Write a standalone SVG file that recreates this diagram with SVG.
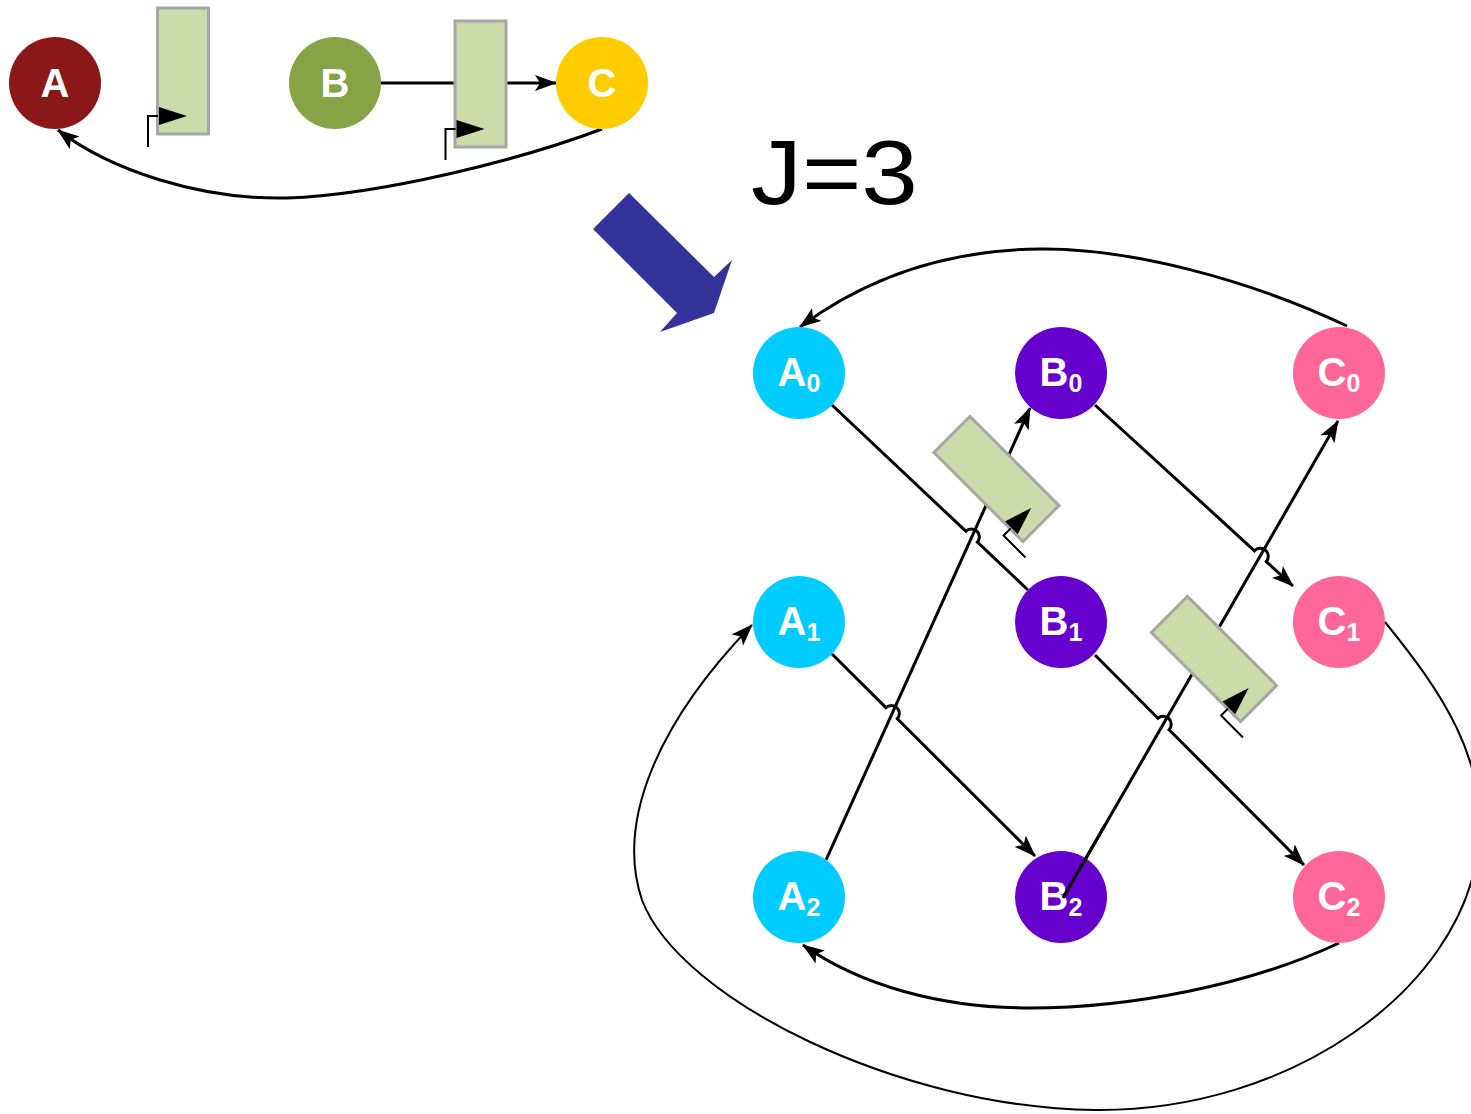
<svg xmlns="http://www.w3.org/2000/svg" width="1471" height="1114" viewBox="0 0 1471 1114">
  <style>
    .wire { fill: none; stroke: #000; stroke-width: 3; }
    .thin { fill: none; stroke: #000; stroke-width: 2; }
    .reg { fill: #CCDBAA; stroke: #A6A6A6; stroke-width: 3; }
    .clk { fill: none; stroke: #000; stroke-width: 2; }
    .lbl { font-family: "Liberation Sans", Arial, sans-serif; font-weight: bold; font-size: 40px; fill: #fff; text-anchor: middle; }
    .sub { font-size: 25px; }
    .title { font-family: "Liberation Sans", Arial, sans-serif; font-size: 91px; fill: #000; }
  </style>
  <defs>
    <marker id="arrow" viewBox="0 0 22 16" refX="21" refY="8" markerWidth="22" markerHeight="16" markerUnits="userSpaceOnUse" orient="auto">
      <path d="M0,0 L22,8 L0,16 L5,8 z" fill="#000"/>
    </marker>
    <!-- register: 51x126 box with a clock input on its lower left side -->
    <g id="register">
      <rect class="reg" x="-25.5" y="-63" width="51" height="126"/>
      <polyline class="clk" points="-25,45 -35,45 -35,76"/>
      <polygon points="-24,36 -24,54 4,45" fill="#000"/>
    </g>
  </defs>

  <!-- connectors -->
  <g id="connectors">
    <!-- single-stage loop -->
    <line class="wire" x1="381" y1="83" x2="455" y2="83"/>
    <line class="wire" x1="506" y1="83" x2="556" y2="83" marker-end="url(#arrow)"/>
    <path class="wire" d="M602,129 C520,160 380,195 287,198 C200,200 110,170 58,130" marker-end="url(#arrow)"/>

    <!-- unrolled loop -->
    <path class="wire" d="M1347,326 C1250,280 1130,248 1040,249 C950,250 870,275 800,327" marker-end="url(#arrow)"/>
    <path class="wire" d="M832,405 L965.8,531.2 A8,8 0 0 1 977.4,542.2 L1028,590"/>
    <line class="wire" x1="826" y1="860" x2="1030" y2="408" marker-end="url(#arrow)"/>
    <path class="wire" d="M1095,405 L1254.5,550.8 A8,8 0 0 1 1266.3,561.6 L1293,586" marker-end="url(#arrow)"/>
    <line class="wire" x1="1063" y1="898" x2="1338" y2="421" marker-end="url(#arrow)"/>
    <path class="wire" d="M832,654 L885.9,707.6 A8,8 0 0 1 897.3,718.8 L1035,856" marker-end="url(#arrow)"/>
    <path class="wire" d="M1095,655 L1157.9,718.3 A8,8 0 0 1 1169.1,729.7 L1304,865" marker-end="url(#arrow)"/>
    <path class="wire" d="M1339,943 C1250,985 1130,1008 1030,1008 C940,1008 860,985 803,945" marker-end="url(#arrow)"/>
    <path class="thin" d="M1385,622 C1440,690 1490,760 1478,850 C1460,990 1290,1112 1095,1110 C900,1108 680,1000 642,900 C615,820 660,720 752,625" marker-end="url(#arrow)"/>
  </g>

  <!-- registers -->
  <g id="reg-1"><use href="#register" transform="translate(183,71)"/></g>
  <g id="reg-2"><use href="#register" transform="translate(480.5,84)"/></g>
  <g id="reg-3"><use href="#register" transform="translate(996.5,479) rotate(-45)"/></g>
  <g id="reg-4"><use href="#register" transform="translate(1214,659) rotate(-45)"/></g>

  <!-- transformation arrow and label -->
  <polygon id="unroll-arrow" points="593,229 629,193 714,277 732,260 714,313 660,332 677,313" fill="#333399"/>
  <text id="j-label" class="title" x="751" y="204" textLength="167" lengthAdjust="spacingAndGlyphs">J=3</text>

  <!-- original nodes -->
  <g id="node-A"><circle cx="55" cy="83" r="46" fill="#8B1818"/><text class="lbl" x="55" y="97">A</text></g>
  <g id="node-B"><circle cx="335" cy="83" r="46" fill="#86A346"/><text class="lbl" x="335" y="97">B</text></g>
  <g id="node-C"><circle cx="602" cy="83" r="46" fill="#FFCC00"/><text class="lbl" x="602" y="97">C</text></g>

  <!-- unrolled nodes -->
  <g id="node-A0"><circle cx="799" cy="373" r="46" fill="#00CCFF"/><text class="lbl" x="799" y="386">A<tspan class="sub" dy="6">0</tspan></text></g>
  <g id="node-B0"><circle cx="1061" cy="373" r="46" fill="#6600CC"/><text class="lbl" x="1061" y="386">B<tspan class="sub" dy="6">0</tspan></text></g>
  <g id="node-C0"><circle cx="1339" cy="373" r="46" fill="#FF6699"/><text class="lbl" x="1339" y="386">C<tspan class="sub" dy="6">0</tspan></text></g>
  <g id="node-A1"><circle cx="799" cy="622" r="46" fill="#00CCFF"/><text class="lbl" x="799" y="635">A<tspan class="sub" dy="6">1</tspan></text></g>
  <g id="node-B1"><circle cx="1061" cy="622" r="46" fill="#6600CC"/><text class="lbl" x="1061" y="635">B<tspan class="sub" dy="6">1</tspan></text></g>
  <g id="node-C1"><circle cx="1339" cy="622" r="46" fill="#FF6699"/><text class="lbl" x="1339" y="635">C<tspan class="sub" dy="6">1</tspan></text></g>
  <g id="node-A2"><circle cx="799" cy="897" r="46" fill="#00CCFF"/><text class="lbl" x="799" y="910">A<tspan class="sub" dy="6">2</tspan></text></g>
  <g id="node-B2"><circle cx="1061" cy="897" r="46" fill="#6600CC"/><text class="lbl" x="1061" y="910">B<tspan class="sub" dy="6">2</tspan></text></g>
  <g id="node-C2"><circle cx="1339" cy="897" r="46" fill="#FF6699"/><text class="lbl" x="1339" y="910">C<tspan class="sub" dy="6">2</tspan></text></g>

  <!-- the B2 to C0 wire starts inside B2 and stays visible over it -->
  <line class="wire" x1="1063" y1="898" x2="1105" y2="825"/>
</svg>
